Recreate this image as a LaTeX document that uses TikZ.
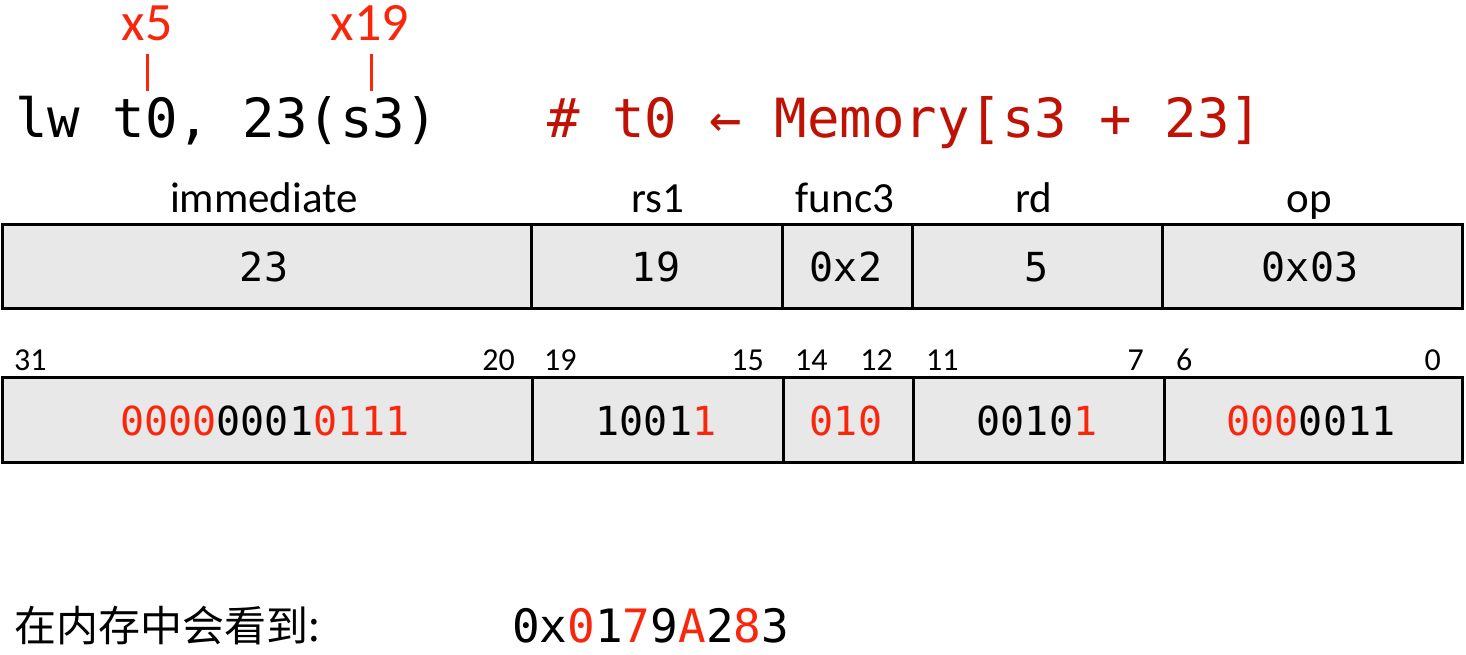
\documentclass[tikz,border=0pt]{standalone}
\usepackage{fontspec}
\setmainfont{Carlito}
\newfontfamily\mono{DejaVu Sans Mono}
\newfontfamily\cjk{Noto Sans CJK SC}
\definecolor{br}{RGB}{250,38,12}
\definecolor{dr}{RGB}{192,18,4}
\definecolor{boxgray}{RGB}{232,232,232}
\tikzset{
  field/.style={draw=black, line width=3pt, fill=boxgray, minimum height=#1, inner sep=0pt, outer sep=0pt},
  fieldlbl/.style={anchor=base, inner sep=0pt, font=\fontsize{43}{48}\selectfont},
  bitnum/.style={inner sep=0pt, font=\fontsize{32}{36}\selectfont},
  val/.style={anchor=base, inner sep=0pt, font=\mono\fontsize{40}{46}\selectfont},
  regl/.style={anchor=base, inner sep=0pt, text=br, font=\fontsize{54}{60}\selectfont},
  tick/.style={draw=br, line width=3pt}
}
\begin{document}
\begin{tikzpicture}[x=1pt,y=-1pt]
\useasboundingbox (0,0) rectangle (1466,654);
% top line
\node[anchor=base west, inner sep=0pt, font=\mono\fontsize{54}{60}\selectfont] (instr) at (15,137) {lw t0, 23(s3)};
\node[anchor=base west, inner sep=0pt, text=dr, font=\mono\fontsize{54}{60}\selectfont] (cmt) at (547,137) {\# t0 ← Memory[s3 + 23]};
\node[regl] (x5) at (147,40) {x5};
\node[regl] (x19) at (370,40) {x19};
\coordinate (t1a) at (147,54); \coordinate (t1b) at (147,91);
\coordinate (t2a) at (371,54); \coordinate (t2b) at (371,91);
\draw[tick] (t1a) -- (t1b);
\draw[tick] (t2a) -- (t2b);
% row 1 labels
\node[fieldlbl] (limm) at (264,212) {immediate};
\node[fieldlbl] (lrs1) at (658,212) {rs1};
\node[fieldlbl] (lf3) at (845,212) {func3};
\node[fieldlbl] (lrd) at (1034,212) {rd};
\node[fieldlbl] (lop) at (1309,212) {op};
% row 1 fields
\node[field=84pt, minimum width=529pt] (a1) at (266.5,266) {};
\node[field=84pt, minimum width=251pt] (a2) at (656.5,266) {};
\node[field=84pt, minimum width=130pt] (a3) at (847,266) {};
\node[field=84pt, minimum width=250pt] (a4) at (1037,266) {};
\node[field=84pt, minimum width=300pt] (a5) at (1312,266) {};
\node[val] (v1) at (264,281) {23};
\node[val] (v2) at (656,281) {19};
\node[val] (v3) at (846,281) {0x2};
\node[val] (v4) at (1037,281) {5};
\node[val] (v5) at (1310,281) {0x03};
% bit numbers
\node[bitnum, anchor=base west] (b31) at (14,370) {31};
\node[bitnum, anchor=base east] (b20) at (515,370) {20};
\node[bitnum, anchor=base west] (b19) at (544,370) {19};
\node[bitnum, anchor=base east] (b15) at (764,370) {15};
\node[bitnum, anchor=base west] (b14) at (795,370) {14};
\node[bitnum, anchor=base east] (b12) at (893,370) {12};
\node[bitnum, anchor=base west] (b11) at (926,370) {11};
\node[bitnum, anchor=base east] (b7) at (1144,370) {7};
\node[bitnum, anchor=base west] (b6) at (1176,370) {6};
\node[bitnum, anchor=base east] (b0) at (1441,370) {0};
% row 2 fields
\node[field=85pt, minimum width=530pt] (c1) at (267,419.5) {};
\node[field=85pt, minimum width=251pt] (c2) at (657.5,419.5) {};
\node[field=85pt, minimum width=130pt] (c3) at (848,419.5) {};
\node[field=85pt, minimum width=251pt] (c4) at (1038.5,419.5) {};
\node[field=85pt, minimum width=298pt] (c5) at (1313,419.5) {};
\node[val] (w1) at (265,435) {{\color{br}0000}0001{\color{br}0111}};
\node[val] (w2) at (656,435) {1001{\color{br}1}};
\node[val] (w3) at (846,435) {{\color{br}010}};
\node[val] (w4) at (1037,435) {0010{\color{br}1}};
\node[val] (w5) at (1311,435) {{\color{br}000}0011};
% bottom
\node[anchor=base west, inner sep=0pt, font=\cjk\fontsize{42}{48}\selectfont] (mem) at (14,641) {在内存中会看到:};
\node[anchor=base west, inner sep=0pt, font=\mono\fontsize{46}{52}\selectfont] (hex) at (512,642) {0x{\color{br}0}1{\color{br}7}9{\color{br}A}2{\color{br}8}3};
\end{tikzpicture}
\end{document}
